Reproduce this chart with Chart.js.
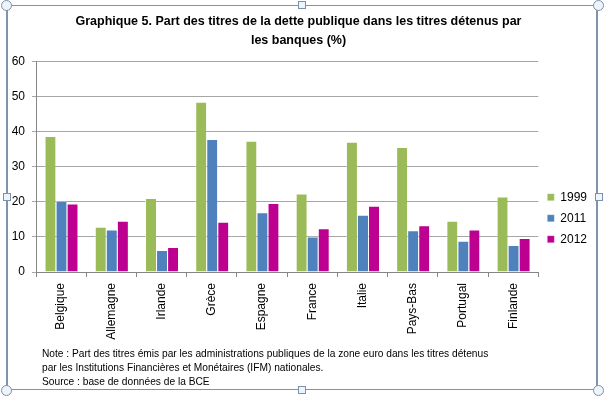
<!DOCTYPE html>
<html>
<head>
<meta charset="utf-8">
<script src="https://cdn.jsdelivr.net/npm/chart.js@4"></script>
<style>
  html, body { margin: 0; padding: 0; background: #fff; }
  #wrap { position: relative; width: 604px; height: 396px; }
  #frame { position: absolute; left: 6px; top: 5px; width: 592px; height: 385px;
           border: 1px solid #8093ad; border-left-width: 2px; border-right-width: 2px; box-sizing: border-box; }
  .h { position: absolute; width: 8px; height: 8px; background: #eef4fb; border: 1px solid #7d90aa; box-sizing: border-box; }
  .c { border-radius: 50%; width: 11px; height: 11px; }
  #note { position: absolute; left: 42px; top: 347px; font: 10.2px "Liberation Sans", Arial, sans-serif;
          line-height: 14px; color: #000; }
  canvas { position: absolute; left: 0; top: 0; }
</style>
</head>
<body>
<div id="wrap">
  <canvas id="chart" width="604" height="396"></canvas>
  <div id="frame"></div>
  <div class="h c" style="left:1px;top:0px"></div>
  <div class="h c" style="left:593px;top:0px"></div>
  <div class="h c" style="left:1px;top:385px"></div>
  <div class="h c" style="left:593px;top:385px"></div>
  <div class="h" style="left:298px;top:1px"></div>
  <div class="h" style="left:298px;top:386px"></div>
  <div class="h" style="left:3px;top:193px"></div>
  <div class="h" style="left:595px;top:193px"></div>
  <div id="note">Note : Part des titres émis par les administrations publiques de la zone euro dans les titres détenus<br>par les Institutions Financières et Monétaires (IFM) nationales.<br>Source : base de données de la BCE</div>
</div>
<script>
const countries = ['Belgique', 'Allemagne', 'Irlande', 'Grèce', 'Espagne', 'France', 'Italie', 'Pays-Bas', 'Portugal', 'Finlande'];
const years = ['1999', '2011', '2012'];
const values1999 = [38.8, 12.9, 21.1, 48.5, 37.4, 22.4, 37.1, 35.6, 14.6, 21.5];
const values2011 = [20.3, 12.1, 6.3, 37.9, 17.0, 10.1, 16.3, 11.9, 8.9, 7.7];
const values2012 = [19.5, 14.6, 7.1, 14.3, 19.7, 12.5, 18.9, 13.3, 12.1, 9.7];
const yTicks = [0, 10, 20, 30, 40, 50, 60];

const colors = ['#9bbb59', '#4f81bd', '#be0090'];
const font = 'Liberation Sans';

const ctx = document.getElementById('chart').getContext('2d');

const chart = new Chart(ctx, {
    type: 'bar',
    data: {
        labels: countries,
        datasets: [values1999, values2011, values2012].map(function (vals, i) {
            return {
                label: years[i],
                data: vals,
                backgroundColor: colors[i],
                borderColor: 'rgba(255,255,255,0.5)',
                borderWidth: { top: 1, left: 1, right: 0, bottom: 0 },
                borderSkipped: 'bottom',
                barPercentage: 1,
                categoryPercentage: 0.66
            };
        })
    },
    options: {
        responsive: false,
        animation: false,
        layout: { padding: { left: 0, right: 7, top: 0, bottom: 0 } },
        plugins: {
            title: {
                display: true,
                text: ['Graphique 5. Part des titres de la dette publique dans les titres détenus par', 'les banques (%)'],
                color: '#000',
                font: { family: font, size: 12.5, weight: 'bold', lineHeight: 1.5 },
                padding: { top: 12, bottom: 12 }
            },
            legend: {
                position: 'right',
                align: 'center',
                labels: {
                    boxWidth: 7,
                    boxHeight: 7,
                    padding: 9,
                    color: '#000',
                    font: { family: font, size: 12 }
                },
                title: {
                    display: true,
                    text: ' ',
                    padding: { top: 0, bottom: 26 },
                    font: { size: 12 }
                }
            },
            tooltip: { enabled: false }
        },
        scales: {
            x: {
                offset: true,
                grid: {
                    display: true,
                    drawOnChartArea: false,
                    offset: true,
                    tickLength: 5,
                    color: '#868686'
                },
                border: { color: '#868686' },
                ticks: {
                    maxRotation: 90,
                    minRotation: 90,
                    padding: 6,
                    color: '#000',
                    font: { family: font, size: 12 }
                },
                afterFit: function (scale) {
                    scale.height = 124;
                }
            },
            y: {
                min: 0,
                max: 60,
                afterBuildTicks: function (scale) {
                    scale.ticks = yTicks.map(function (v) { return { value: v }; });
                },
                grid: {
                    color: '#a6a6a6',
                    tickLength: 4
                },
                border: { color: '#868686' },
                ticks: {
                    padding: 7,
                    color: '#000',
                    font: { family: font, size: 12 }
                },
                afterFit: function (scale) {
                    scale.width = 36;
                }
            }
        }
    }
});
</script>
</body>
</html>
